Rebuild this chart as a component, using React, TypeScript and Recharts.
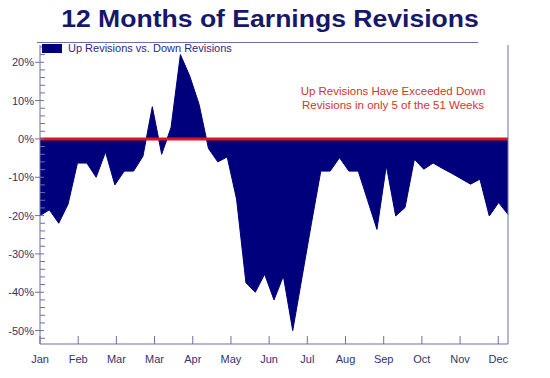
import { ComposedChart, Area, XAxis, YAxis, ReferenceLine } from "recharts"

// weekly net revisions (up minus down), % — 51 weeks
const revisions = [
  -20, -18.5, -22, -17, -6.3, -6.3, -10, -3.4, -12, -8.4, -8.4, -4.5, 8.4, -4, 3, 22, 16.4, 9, -2.5, -6,
  -4.7, -15.7, -37.5, -40, -35.3, -42, -35.8, -50, -36, -22, -8.4, -8.4, -4.9, -8.4, -8.4, -16, -23.6, -7,
  -20.1, -17.9, -5.3, -7.9, -6.3, -7.7, -9, -10.4, -11.8, -10.5, -20.1, -16.6, -19.7,
]

const monthLabels = ["Jan", "Feb", "Mar", "Mar", "Apr", "May", "Jun", "Jul", "Aug", "Sep", "Oct", "Nov", "Dec"]
const monthTicks = [0, 4.08, 8.16, 12.24, 16.32, 20.4, 24.48, 28.56, 32.64, 36.72, 40.8, 44.88, 48.96]

const percentTicks = [
  -52, -50, -48, -46, -44, -42, -40, -38, -36, -34, -32, -30, -28, -26, -24, -22, -20, -18, -16, -14, -12,
  -10, -8, -6, -4, -2, 0, 2, 4, 6, 8, 10, 12, 14, 16, 18, 20, 22, 24,
]

const data = revisions.map((v, i) => ({ week: i, value: v }))

const NAVY = "#00007d"
const AXIS = "#6e6ea6"
const LABEL = "#33336e"
const FONT = "'Liberation Sans', Arial, sans-serif"

const PLOT_LEFT = 40
const PLOT_RIGHT = 508
const PLOT_BOTTOM = 344

const LeftTick = (props: any) => {
  const { y, payload } = props
  const v = payload.value
  const major = v % 10 === 0
  return (
    <g>
      {major ? (
        <line x1={PLOT_LEFT - 5} x2={PLOT_LEFT + 4} y1={y} y2={y} stroke={AXIS} />
      ) : (
        <line x1={PLOT_LEFT} x2={PLOT_LEFT + 5} y1={y} y2={y} stroke={AXIS} />
      )}
      {major && (
        <text x={PLOT_LEFT - 6} y={y} dy={4} textAnchor="end" fontSize={11} fontFamily={FONT} fill={LABEL}>
          {v}%
        </text>
      )}
    </g>
  )
}

const RightTick = (props: any) => {
  const { y, payload } = props
  const v = payload.value
  const major = v % 10 === 0
  return (
    <g>
      {major ? (
        <line x1={PLOT_RIGHT - 5} x2={PLOT_RIGHT + 4} y1={y} y2={y} stroke={AXIS} />
      ) : (
        <line x1={PLOT_RIGHT - 5} x2={PLOT_RIGHT} y1={y} y2={y} stroke={AXIS} />
      )}
      {major && (
        <text x={PLOT_RIGHT + 5} y={y} dy={4} textAnchor="start" fontSize={11} fontFamily={FONT} fill={LABEL}>
          {v}%
        </text>
      )}
    </g>
  )
}

const MonthTick = (props: any) => {
  const { x, index } = props
  return (
    <g>
      <line x1={x} x2={x} y1={PLOT_BOTTOM} y2={PLOT_BOTTOM - 8} stroke={AXIS} />
      <text x={x} y={PLOT_BOTTOM + 19} textAnchor="middle" fontSize={11} fontFamily={FONT} fill={LABEL}>
        {monthLabels[index]}
      </text>
    </g>
  )
}

export default function App() {
  return (
    <div style={{ position: "relative", width: 550, height: 378, background: "#fff", fontFamily: FONT }}>
      <style>{`body{margin:0}`}</style>
      <div
        style={{
          position: "absolute",
          left: 0,
          top: 7,
          width: 540,
          textAlign: "center",
          fontSize: 23.5,
          lineHeight: "24px",
          fontWeight: 700,
          color: "#17176c",
          transform: "scaleX(1.13)",
        }}
      >
        12 Months of Earnings Revisions
      </div>
      <ComposedChart width={550} height={378} data={data} margin={{ top: 45, right: 0, left: 0, bottom: 0 }}>
        <XAxis
          dataKey="week"
          type="number"
          domain={[0, 50]}
          ticks={monthTicks}
          interval={0}
          height={34}
          axisLine={{ stroke: AXIS }}
          tickLine={false}
          tick={<MonthTick />}
        />
        <YAxis
          yAxisId="left"
          domain={[-53.5, 24.5]}
          ticks={percentTicks}
          interval={0}
          width={40}
          axisLine={{ stroke: AXIS }}
          tickLine={false}
          tick={<LeftTick />}
        />
        <YAxis
          yAxisId="right"
          orientation="right"
          domain={[-53.5, 24.5]}
          ticks={percentTicks}
          interval={0}
          width={42}
          axisLine={{ stroke: AXIS }}
          tickLine={false}
          tick={<RightTick />}
        />
        <Area
          yAxisId="left"
          type="linear"
          dataKey="value"
          baseValue={0}
          fill={NAVY}
          fillOpacity={1}
          stroke={NAVY}
          strokeWidth={1}
          isAnimationActive={false}
        />
        <ReferenceLine yAxisId="left" y={0} stroke="#e0141c" strokeWidth={3} />
      </ComposedChart>
      <div
        style={{
          position: "absolute",
          left: 37,
          top: 42,
          width: 441,
          height: 0,
          borderTop: `1px solid ${AXIS}`,
        }}
      />
      <div style={{ position: "absolute", left: 42, top: 44, width: 20, height: 9, background: NAVY }} />
      <div style={{ position: "absolute", left: 68, top: 41, fontSize: 11, lineHeight: "14px", color: "#2a2a86" }}>
        Up Revisions vs. Down Revisions
      </div>
      <div
        style={{
          position: "absolute",
          left: 293,
          top: 84,
          width: 200,
          textAlign: "center",
          fontSize: 11.5,
          lineHeight: "14px",
          color: "#d2352b",
        }}
      >
        Up Revisions Have Exceeded Down
        <br />
        Revisions in only 5 of the 51 Weeks
      </div>
    </div>
  )
}
